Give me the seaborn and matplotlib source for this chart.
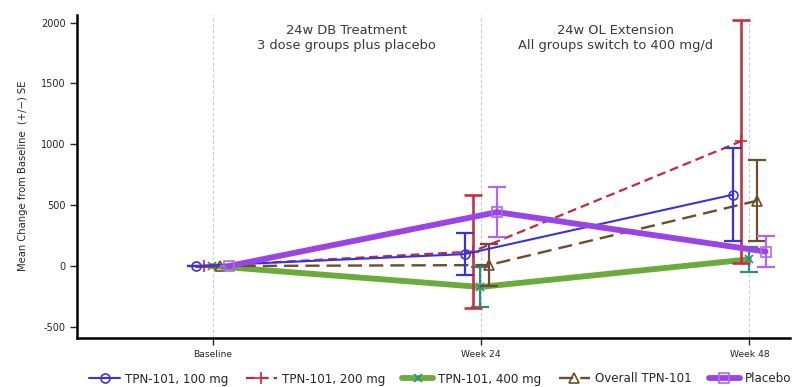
import matplotlib
matplotlib.use("Agg")
import matplotlib.pyplot as plt
import pandas as pd
import seaborn as sns

visits = ["Baseline", "Week 24", "Week 48"]
weeks = [0, 24, 48]
groups = [
    "TPN-101, 100 mg",
    "TPN-101, 200 mg",
    "TPN-101, 400 mg",
    "Overall TPN-101",
    "Placebo",
]
mean_100 = [0, 98, 587]
se_100 = [0, 172, 381]
mean_200 = [0, 119, 1025]
se_200 = [0, 463, 1000]
mean_400 = [0, -172, 55]
se_400 = [0, 164, 103]
mean_overall = [0, 8, 537]
se_overall = [0, 172, 332]
mean_placebo = [0, 443, 119]
se_placebo = [0, 205, 127]

period_labels = [
    "24w DB Treatment\n3 dose groups plus placebo",
    "24w OL Extension\nAll groups switch to 400 mg/d",
]

means = [mean_100, mean_200, mean_400, mean_overall, mean_placebo]
ses = [se_100, se_200, se_400, se_overall, se_placebo]
rows = []
for g, m, s in zip(groups, means, ses):
    for w, mv, sv in zip(weeks, m, s):
        rows.append({"group": g, "week": w, "mean": mv, "se": sv})
df = pd.DataFrame(rows)

# per-group look: small horizontal dodge so the error bars don't overlap
styles = {
    "TPN-101, 100 mg": dict(color="#3a32e0", ecolor="#3a32e0", lw=1.5, ls="-",
                            marker="o", ms=6.5, mec="#3a32e0", elw=1.6, z=4),
    "TPN-101, 200 mg": dict(color="#c8283c", ecolor="#c83040", lw=1.6, ls=(0, (4, 2.2)),
                            marker="+", ms=8, mec="#c8283c", elw=1.9, z=3),
    "TPN-101, 400 mg": dict(color="#6aab3c", ecolor="#2c8c80", lw=4.2, ls="-",
                            marker="x", ms=6, mec="#2c8c80", elw=1.6, z=2),
    "Overall TPN-101": dict(color="#6e4c2c", ecolor="#6e4c2c", lw=1.7, ls=(0, (6, 3)),
                            marker="^", ms=6.5, mec="#6e4c2c", elw=1.6, z=3),
    "Placebo": dict(color="#9a44e6", ecolor="#b266f0", lw=4.2, ls="-",
                    marker="s", ms=6.5, mec="#b266f0", elw=1.6, z=5),
}
offsets = dict(zip(groups, [-1.45, -0.75, -0.05, 0.7, 1.45]))

sns.set_style("white")
plt.rcParams["font.family"] = ["DejaVu Sans"]
plt.rcParams["axes.unicode_minus"] = False

fig = plt.figure(figsize=(7.96, 3.87), dpi=100)
ax = fig.add_axes([0.097, 0.127, 0.895, 0.835])

for g in groups:
    st = styles[g]
    sub = df[df["group"] == g].copy()
    sub["x"] = sub["week"] + offsets[g]
    sns.lineplot(
        data=sub, x="x", y="mean", ax=ax, errorbar=None, sort=False,
        color=st["color"], linewidth=st["lw"], linestyle=st["ls"],
        marker=st["marker"], markersize=st["ms"], markerfacecolor="none",
        markeredgecolor=st["mec"], markeredgewidth=1.2, label=g, zorder=st["z"],
    )
    ax.errorbar(
        sub["x"], sub["mean"], yerr=sub["se"], fmt="none",
        ecolor=st["ecolor"], elinewidth=st["elw"], capsize=6.5, capthick=st["elw"],
        zorder=st["z"] - 0.5,
    )

ax.set_xlim(-12.1, 51.6)
ax.set_ylim(-590, 2065)
ax.set_xticks(weeks)
ax.set_xticklabels(visits, fontsize=6.6)
ax.set_yticks([-500, 0, 500, 1000, 1500, 2000])
ax.tick_params(axis="y", labelsize=7, length=5, width=1, direction="out", left=True)
ax.tick_params(axis="x", length=5, width=1, direction="out", bottom=True, pad=4)
ax.set_xlabel("")
ax.set_ylabel("Mean Change from Baseline  (+/\u2212) SE", fontsize=7.2, labelpad=9)

ax.grid(axis="x", linestyle=(0, (3, 2)), color="#cccccc", linewidth=0.8)
ax.grid(axis="y", visible=False)
for side in ["top", "right"]:
    ax.spines[side].set_visible(False)
for side in ["left", "bottom"]:
    ax.spines[side].set_color("black")
    ax.spines[side].set_linewidth(1.8)

for xc, txt in zip([12, 36], period_labels):
    ax.text(xc, 1875, txt, ha="center", va="center", fontsize=9.4, color="#3a3a3a",
            linespacing=1.25)

handles, labels = ax.get_legend_handles_labels()
if ax.legend_:
    ax.legend_.remove()
fig.legend(handles, labels, loc="center", bbox_to_anchor=(0.553, 1 - 379 / 387),
           ncol=5, frameon=False, fontsize=8.6, handlelength=2.6,
           columnspacing=1.45, handletextpad=0.4)

fig.savefig("out.png", dpi=100)
